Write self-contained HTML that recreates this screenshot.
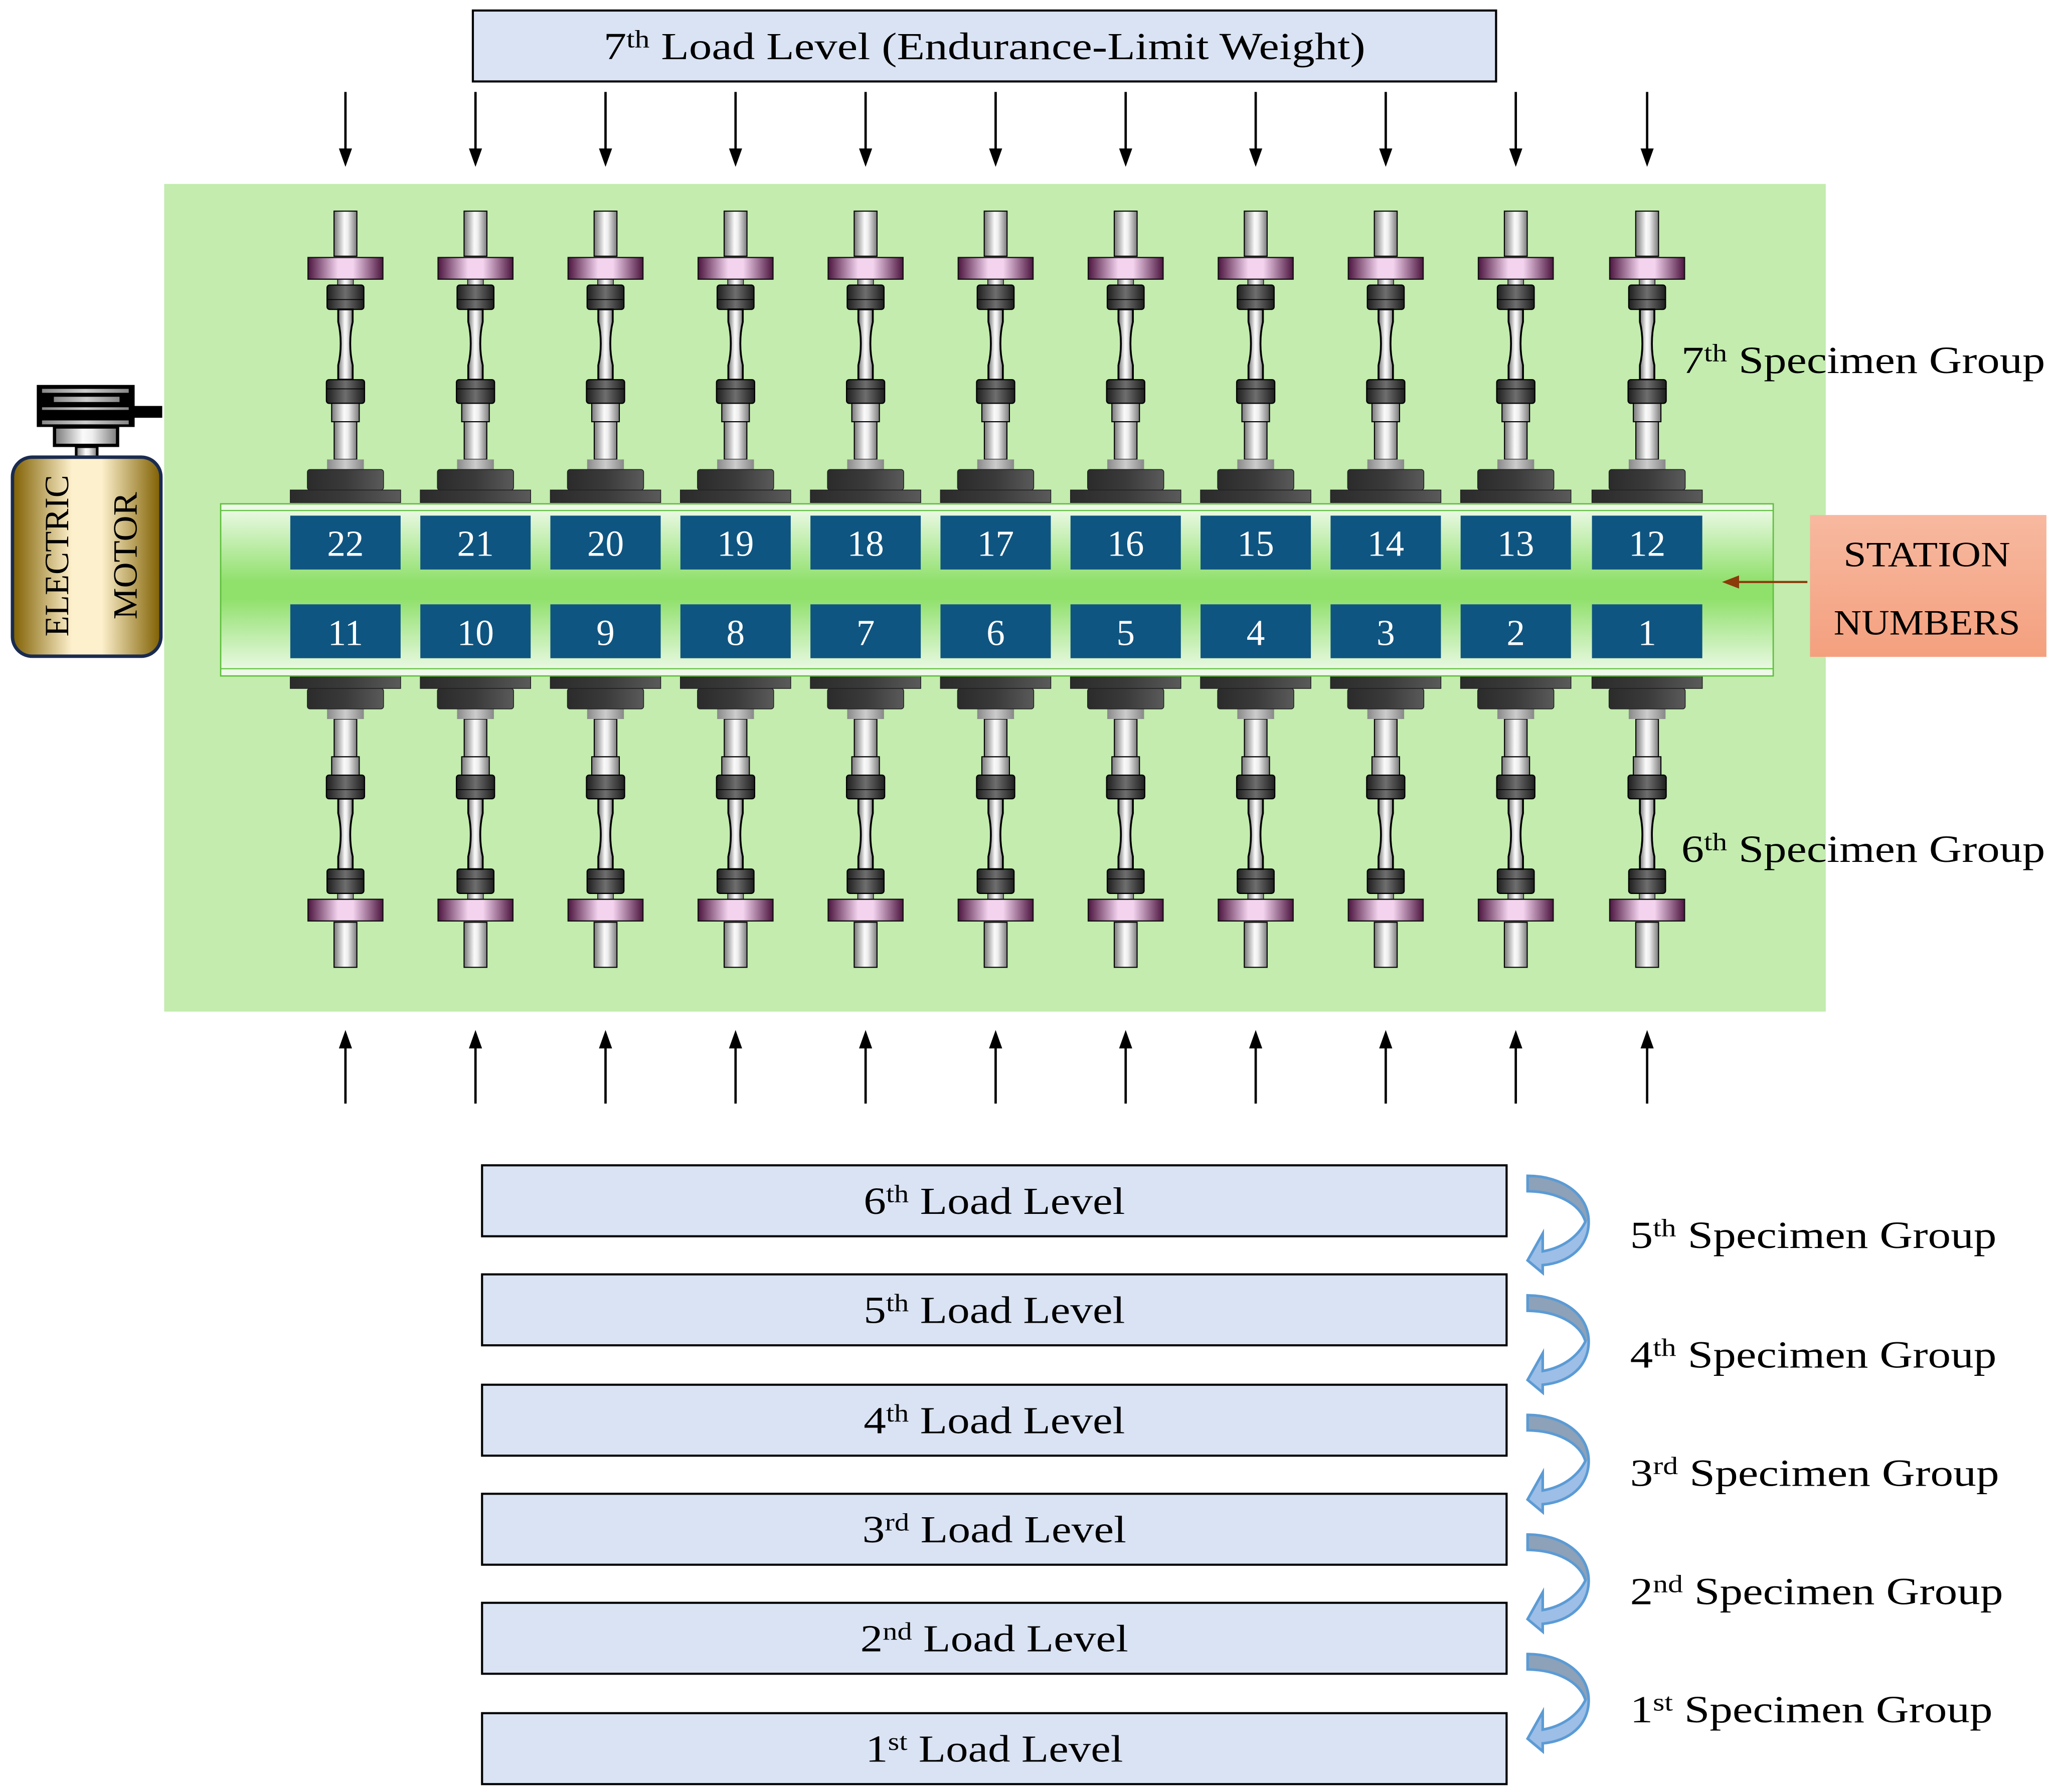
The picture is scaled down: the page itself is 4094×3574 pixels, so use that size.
<!DOCTYPE html>
<html><head><meta charset="utf-8"><style>
html,body{margin:0;padding:0;background:#fff;}
svg{display:block;}
text{font-family:"Liberation Serif",serif;}
</style></head><body>
<svg width="4094" height="3574" viewBox="0 0 1563 1364" preserveAspectRatio="none" xmlns="http://www.w3.org/2000/svg">
<defs>
<linearGradient id="metal" x1="0" x2="1" y1="0" y2="0"><stop offset="0" stop-color="#777"/><stop offset="0.45" stop-color="#fafafa"/><stop offset="0.6" stop-color="#eee"/><stop offset="1" stop-color="#7a7a7a"/></linearGradient>
<linearGradient id="pink" x1="0" x2="1"><stop offset="0" stop-color="#4d1540"/><stop offset="0.4" stop-color="#f3d3ee"/><stop offset="0.6" stop-color="#f3d3ee"/><stop offset="1" stop-color="#4d1540"/></linearGradient>
<linearGradient id="dark" x1="0" x2="1"><stop offset="0" stop-color="#1e1e1e"/><stop offset="0.5" stop-color="#6e6e6e"/><stop offset="1" stop-color="#1e1e1e"/></linearGradient>
<linearGradient id="darkb" x1="0" x2="1"><stop offset="0" stop-color="#2b2b2b"/><stop offset="0.5" stop-color="#3a3a3a"/><stop offset="1" stop-color="#5a5a5a"/></linearGradient>
<linearGradient id="plate" x1="0" x2="1"><stop offset="0" stop-color="#888"/><stop offset="0.5" stop-color="#ccc"/><stop offset="1" stop-color="#888"/></linearGradient>
<linearGradient id="bar" x1="0" x2="0" y1="0" y2="1"><stop offset="0" stop-color="#f2fbee"/><stop offset="0.45" stop-color="#90e06c"/><stop offset="0.55" stop-color="#90e06c"/><stop offset="1" stop-color="#f2fbee"/></linearGradient>
<linearGradient id="motor" x1="0" x2="1"><stop offset="0" stop-color="#7f5f00"/><stop offset="0.4" stop-color="#fdf0cc"/><stop offset="0.6" stop-color="#fdf0cc"/><stop offset="1" stop-color="#7f5f00"/></linearGradient>
<linearGradient id="salmon" x1="0" x2="0" y1="0" y2="1"><stop offset="0" stop-color="#f7b9a0"/><stop offset="1" stop-color="#f4a07e"/></linearGradient>
<linearGradient id="curv" x1="0" x2="0" y1="0" y2="1"><stop offset="0.47" stop-color="#8da1b8"/><stop offset="0.47" stop-color="#9dbee6"/></linearGradient>
<g id="spec">
<rect x="-8.7" y="160.7" width="17.4" height="34.3" fill="url(#metal)" stroke="#000" stroke-width="0.8"/>
<rect x="-6" y="212" width="12" height="5.5" fill="url(#metal)" stroke="#000" stroke-width="0.5"/>
<rect x="-28.5" y="196" width="57" height="16.5" fill="url(#pink)" stroke="#111" stroke-width="0.9"/>
<rect x="-14" y="217" width="28" height="18.5" rx="2" fill="url(#dark)" stroke="#000" stroke-width="0.9"/>
<line x1="-14" y1="228" x2="14" y2="228" stroke="#000" stroke-width="0.6"/>
<path d="M-5.5,235.5 L5.5,235.5 L5.5,245 C3,255 3,268 5.5,278 L5.5,289 L-5.5,289 L-5.5,278 C-3,268 -3,255 -5.5,245 Z" fill="url(#metal)" stroke="#000" stroke-width="1.4"/>
<rect x="-14.5" y="289" width="29" height="18" rx="2" fill="url(#dark)" stroke="#000" stroke-width="0.9"/>
<line x1="-14.5" y1="296" x2="14.5" y2="296" stroke="#000" stroke-width="0.6"/>
<rect x="-10.5" y="307" width="21" height="14" fill="url(#metal)" stroke="#000" stroke-width="0.8"/>
<rect x="-8.6" y="321" width="17.2" height="28.7" fill="url(#metal)" stroke="#000" stroke-width="0.8"/>
<rect x="-14" y="349.7" width="28" height="7.7" fill="url(#plate)"/>
<rect x="-29" y="357.4" width="58" height="15.6" rx="2" fill="url(#darkb)" stroke="#222" stroke-width="0.6"/>
<rect x="-42" y="373" width="84" height="9.5" fill="url(#darkb)" stroke="#222" stroke-width="0.6"/>
</g>
<g id="adown"><line x1="0" y1="70" x2="0" y2="116" stroke="#000" stroke-width="1.8"/><polygon points="-5,113 5,113 0,127" fill="#000"/></g>
<g id="aup"><line x1="0" y1="796" x2="0" y2="840" stroke="#000" stroke-width="1.8"/><polygon points="-5,798 5,798 0,784" fill="#000"/></g>
<path id="curl" d="M0,0 C26,0 46.5,14 46.5,35 C46.5,54 32,66 11.5,68 L11.5,74 L0,64.4 L11.5,44 L11.5,57.5 C26,55 38,47 44,35 C40,21 22,12 0,11.7 Z" fill="url(#curv)" stroke="#5b9bd5" stroke-width="2"/>
</defs>

<rect x="360" y="8" width="779" height="54" fill="#dae3f3" stroke="#000" stroke-width="1.6"/>
<text x="749.5" y="45" font-size="29" text-anchor="middle" textLength="580" lengthAdjust="spacingAndGlyphs">7<tspan font-size="19" dy="-9">th</tspan><tspan dy="9"> Load Level (Endurance-Limit Weight)</tspan></text>

<use href="#adown" x="263"/><use href="#adown" x="362"/><use href="#adown" x="461"/><use href="#adown" x="560"/><use href="#adown" x="659"/><use href="#adown" x="758"/><use href="#adown" x="857"/><use href="#adown" x="956"/><use href="#adown" x="1055"/><use href="#adown" x="1154"/><use href="#adown" x="1254"/>
<use href="#aup" x="263"/><use href="#aup" x="362"/><use href="#aup" x="461"/><use href="#aup" x="560"/><use href="#aup" x="659"/><use href="#aup" x="758"/><use href="#aup" x="857"/><use href="#aup" x="956"/><use href="#aup" x="1055"/><use href="#aup" x="1154"/><use href="#aup" x="1254"/>

<rect x="125" y="140" width="1265" height="630" fill="#c3ecae"/>

<g>
<use href="#spec" transform="translate(263,0)"/><use href="#spec" transform="translate(362,0)"/><use href="#spec" transform="translate(461,0)"/><use href="#spec" transform="translate(560,0)"/><use href="#spec" transform="translate(659,0)"/><use href="#spec" transform="translate(758,0)"/><use href="#spec" transform="translate(857,0)"/><use href="#spec" transform="translate(956,0)"/><use href="#spec" transform="translate(1055,0)"/><use href="#spec" transform="translate(1154,0)"/><use href="#spec" transform="translate(1254,0)"/>
<use href="#spec" transform="translate(263,897) scale(1,-1)"/><use href="#spec" transform="translate(362,897) scale(1,-1)"/><use href="#spec" transform="translate(461,897) scale(1,-1)"/><use href="#spec" transform="translate(560,897) scale(1,-1)"/><use href="#spec" transform="translate(659,897) scale(1,-1)"/><use href="#spec" transform="translate(758,897) scale(1,-1)"/><use href="#spec" transform="translate(857,897) scale(1,-1)"/><use href="#spec" transform="translate(956,897) scale(1,-1)"/><use href="#spec" transform="translate(1055,897) scale(1,-1)"/><use href="#spec" transform="translate(1154,897) scale(1,-1)"/><use href="#spec" transform="translate(1254,897) scale(1,-1)"/>
</g>

<rect x="168" y="383.5" width="1182" height="131" fill="url(#bar)" stroke="#5cbf3a" stroke-width="1"/>
<line x1="168" y1="388.6" x2="1350" y2="388.6" stroke="#5cbf3a" stroke-width="0.8"/>
<line x1="168" y1="509" x2="1350" y2="509" stroke="#5cbf3a" stroke-width="0.8"/>

<g fill="#0f5581">
<rect x="221" y="392.5" width="84" height="41"/><rect x="320" y="392.5" width="84" height="41"/><rect x="419" y="392.5" width="84" height="41"/><rect x="518" y="392.5" width="84" height="41"/><rect x="617" y="392.5" width="84" height="41"/><rect x="716" y="392.5" width="84" height="41"/><rect x="815" y="392.5" width="84" height="41"/><rect x="914" y="392.5" width="84" height="41"/><rect x="1013" y="392.5" width="84" height="41"/><rect x="1112" y="392.5" width="84" height="41"/><rect x="1212" y="392.5" width="84" height="41"/>
<rect x="221" y="460" width="84" height="41"/><rect x="320" y="460" width="84" height="41"/><rect x="419" y="460" width="84" height="41"/><rect x="518" y="460" width="84" height="41"/><rect x="617" y="460" width="84" height="41"/><rect x="716" y="460" width="84" height="41"/><rect x="815" y="460" width="84" height="41"/><rect x="914" y="460" width="84" height="41"/><rect x="1013" y="460" width="84" height="41"/><rect x="1112" y="460" width="84" height="41"/><rect x="1212" y="460" width="84" height="41"/>
</g>
<g fill="#fff" font-size="28" text-anchor="middle">
<text x="263" y="423">22</text><text x="362" y="423">21</text><text x="461" y="423">20</text><text x="560" y="423">19</text><text x="659" y="423">18</text><text x="758" y="423">17</text><text x="857" y="423">16</text><text x="956" y="423">15</text><text x="1055" y="423">14</text><text x="1154" y="423">13</text><text x="1254" y="423">12</text>
<text x="263" y="491">11</text><text x="362" y="491">10</text><text x="461" y="491">9</text><text x="560" y="491">8</text><text x="659" y="491">7</text><text x="758" y="491">6</text><text x="857" y="491">5</text><text x="956" y="491">4</text><text x="1055" y="491">3</text><text x="1154" y="491">2</text><text x="1254" y="491">1</text>
</g>

<text x="1280" y="284" font-size="29" textLength="277" lengthAdjust="spacingAndGlyphs">7<tspan font-size="19" dy="-9">th</tspan><tspan dy="9"> Specimen Group</tspan></text>
<text x="1280" y="656" font-size="29" textLength="277" lengthAdjust="spacingAndGlyphs">6<tspan font-size="19" dy="-9">th</tspan><tspan dy="9"> Specimen Group</tspan></text>

<rect x="1378" y="392" width="180" height="108" fill="url(#salmon)"/>
<text x="1467" y="431" font-size="27" text-anchor="middle" textLength="127" lengthAdjust="spacingAndGlyphs">STATION</text>
<text x="1467" y="483" font-size="27" text-anchor="middle" textLength="142" lengthAdjust="spacingAndGlyphs">NUMBERS</text>
<line x1="1376" y1="443" x2="1322" y2="443" stroke="#8b3a0a" stroke-width="1.6"/>
<polygon points="1324,438 1324,448 1311,443" fill="#8b3a0a"/>

<rect x="102" y="309" width="21.5" height="9" fill="#000"/>
<rect x="28" y="293" width="74.5" height="32" fill="#000"/>
<rect x="32" y="296" width="66" height="3" fill="url(#plate)"/>
<rect x="41" y="302" width="50" height="4" fill="url(#plate)"/>
<rect x="32" y="310" width="66" height="2" fill="url(#plate)"/>
<rect x="32" y="320" width="66" height="3" fill="url(#plate)"/>
<rect x="41.5" y="325" width="48" height="14" fill="url(#metal)" stroke="#000" stroke-width="2.5"/>
<rect x="58" y="340" width="16" height="8" fill="url(#metal)" stroke="#000" stroke-width="2"/>
<rect x="9.5" y="348" width="113" height="151.5" rx="15" fill="url(#motor)" stroke="#1a2b50" stroke-width="2.6"/>
<text transform="translate(52,423) rotate(-90)" font-size="26" text-anchor="middle" textLength="123" lengthAdjust="spacingAndGlyphs">ELECTRIC</text>
<text transform="translate(104,423) rotate(-90)" font-size="26" text-anchor="middle" textLength="97" lengthAdjust="spacingAndGlyphs">MOTOR</text>

<g fill="#dae3f3" stroke="#000" stroke-width="1.6">
<rect x="367" y="887" width="780" height="54"/><rect x="367" y="970" width="780" height="54"/><rect x="367" y="1054" width="780" height="54"/><rect x="367" y="1137" width="780" height="54"/><rect x="367" y="1220" width="780" height="54"/><rect x="367" y="1304" width="780" height="54"/>
</g>
<g font-size="29" text-anchor="middle">
<text x="757" y="924" textLength="199" lengthAdjust="spacingAndGlyphs">6<tspan font-size="19" dy="-9">th</tspan><tspan dy="9"> Load Level</tspan></text>
<text x="757" y="1007" textLength="199" lengthAdjust="spacingAndGlyphs">5<tspan font-size="19" dy="-9">th</tspan><tspan dy="9"> Load Level</tspan></text>
<text x="757" y="1091" textLength="199" lengthAdjust="spacingAndGlyphs">4<tspan font-size="19" dy="-9">th</tspan><tspan dy="9"> Load Level</tspan></text>
<text x="757" y="1174" textLength="201" lengthAdjust="spacingAndGlyphs">3<tspan font-size="19" dy="-9">rd</tspan><tspan dy="9"> Load Level</tspan></text>
<text x="757" y="1257" textLength="204" lengthAdjust="spacingAndGlyphs">2<tspan font-size="19" dy="-9">nd</tspan><tspan dy="9"> Load Level</tspan></text>
<text x="757" y="1341" textLength="196" lengthAdjust="spacingAndGlyphs">1<tspan font-size="19" dy="-9">st</tspan><tspan dy="9"> Load Level</tspan></text>
</g>

<use href="#curl" transform="translate(1163,895)"/>
<use href="#curl" transform="translate(1163,986)"/>
<use href="#curl" transform="translate(1163,1077)"/>
<use href="#curl" transform="translate(1163,1168)"/>
<use href="#curl" transform="translate(1163,1259)"/>

<g font-size="29">
<text x="1241" y="950" textLength="279" lengthAdjust="spacingAndGlyphs">5<tspan font-size="19" dy="-9">th</tspan><tspan dy="9"> Specimen Group</tspan></text>
<text x="1241" y="1041" textLength="279" lengthAdjust="spacingAndGlyphs">4<tspan font-size="19" dy="-9">th</tspan><tspan dy="9"> Specimen Group</tspan></text>
<text x="1241" y="1131" textLength="281" lengthAdjust="spacingAndGlyphs">3<tspan font-size="19" dy="-9">rd</tspan><tspan dy="9"> Specimen Group</tspan></text>
<text x="1241" y="1221" textLength="284" lengthAdjust="spacingAndGlyphs">2<tspan font-size="19" dy="-9">nd</tspan><tspan dy="9"> Specimen Group</tspan></text>
<text x="1241" y="1311" textLength="276" lengthAdjust="spacingAndGlyphs">1<tspan font-size="19" dy="-9">st</tspan><tspan dy="9"> Specimen Group</tspan></text>
</g>
</svg>
</body></html>
